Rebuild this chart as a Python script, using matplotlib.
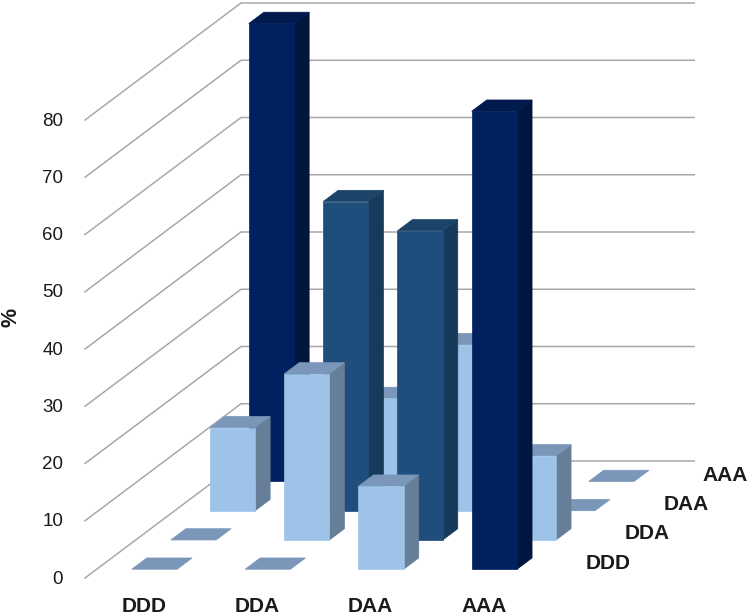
import matplotlib
matplotlib.use("Agg")
import matplotlib.pyplot as plt
from matplotlib.patches import Polygon
from matplotlib.transforms import ScaledTranslation

plt.rcParams['font.family'] = ['Liberation Sans', 'DejaVu Sans']

# ---- data ----
categories = ['DDD', 'DDA', 'DAA', 'AAA']
row_names = ['DDD', 'DDA', 'DAA', 'AAA']   # front to back
row_ddd = [0, 0, 14.5, 80]
row_dda = [0, 29, 54, 14.7]
row_daa = [14.5, 54, 29, 0]
row_aaa = [80, 14.5, 0, 0]
rows = [row_ddd, row_dda, row_daa, row_aaa]
y_ticks = [0, 10, 20, 30, 40, 50, 60, 70, 80]

# ---- oblique geometry ----
W, H = 752, 616
PX0, PY0 = 85.0, 578.0      # origin of the chart in pixels
COL_PX = 113.3              # px per category
UNIT_PX = 5.725             # px per value unit
ROW_DX, ROW_DY = 39.0, 29.25   # px shift per depth row
DX = ROW_DX / COL_PX        # depth shear in data units
DY = ROW_DY / UNIT_PX
BAR_W, BAR_GAP = 0.40, 0.31
BAR_D, DEPTH_GAP = 0.385, 0.30

AX_L, AX_B = 66, 592        # axes rectangle in px


def proj(x, depth, v):
    return (x + depth * DX, v + depth * DY)


fig = plt.figure(figsize=(W / 100, H / 100), dpi=100, facecolor='white')
ax = fig.add_axes([AX_L / W, (H - AX_B) / H, 1 - AX_L / W, AX_B / H])
ax.set_xlim((AX_L - PX0) / COL_PX, (W - PX0) / COL_PX)
ax.set_ylim((PY0 - AX_B) / UNIT_PX, PY0 / UNIT_PX)
for s in ax.spines.values():
    s.set_visible(False)
ax.patch.set_visible(False)

# walls
GRID = '#a8a8a8'
n_rows, n_cols = len(rows), len(categories)
for t in y_ticks:
    a, b = proj(0, 0, t), proj(0, n_rows, t)
    c = proj(n_cols, n_rows, t)
    ax.plot([a[0], b[0], c[0]], [a[1], b[1], c[1]], color=GRID, lw=1.1,
            solid_joinstyle='miter', zorder=1, clip_on=False)

# colours: (front, side, cap)
LIGHT = ('#9dc3e8', '#677e98', '#7a96b8')
MID = ('#1f4e7c', '#163a59', '#1c4468')
DARK = ('#00205f', '#00163f', '#001a4e')


def palette(v):
    if v >= 70:
        return DARK
    if v >= 40:
        return MID
    return LIGHT


z = 2
for j in range(n_rows - 1, -1, -1):
    for i in range(n_cols):
        v = rows[j][i]
        front, side, cap = palette(v)
        x0, x1 = i + BAR_GAP, i + BAR_GAP + BAR_W
        d0, d1 = j + DEPTH_GAP, j + DEPTH_GAP + BAR_D
        faces = []
        if v > 0:
            faces.append(([proj(x1, d0, 0), proj(x1, d1, 0), proj(x1, d1, v), proj(x1, d0, v)], side))
            faces.append(([proj(x0, d0, v), proj(x1, d0, v), proj(x1, d1, v), proj(x0, d1, v)], cap))
            faces.append(([proj(x0, d0, 0), proj(x1, d0, 0), proj(x1, d0, v), proj(x0, d0, v)], front))
        else:
            faces.append(([proj(x0, d0, v), proj(x1, d0, v), proj(x1, d1, v), proj(x0, d1, v)], cap))
        for pts, col in faces:
            ax.add_patch(Polygon(pts, closed=True, facecolor=col, edgecolor=col,
                                 lw=0.5, zorder=z, clip_on=False))
            z += 1

# axes text
TXT = '#1a1a1a'
ax.set_yticks(y_ticks)
ax.set_xticks([i + 0.52 for i in range(n_cols)])
ax.set_xticklabels(categories, fontsize=15, fontweight='bold', color=TXT)
ax.tick_params(axis='both', length=0, zorder=50)
ax.tick_params(axis='x', pad=3.4)
ax.tick_params(axis='y', pad=2, labelsize=13.5, labelcolor=TXT)
shift = ScaledTranslation(0, 1.0 / 100, fig.dpi_scale_trans)   # 1 px up
for lab in ax.get_yticklabels():
    lab.set_transform(lab.get_transform() + shift)
ax.set_ylabel('%', fontsize=15.5, fontweight='bold', color=TXT,
              va='center', ha='center')
ax.yaxis.set_label_coords(-(AX_L - 11) / (W - AX_L), (AX_B - 317) / AX_B)

# depth-axis labels
for j, name in enumerate(row_names):
    x, y = proj(n_cols + 0.62, j, 2.6)
    ax.text(x, y, name, fontsize=15, fontweight='bold', color=TXT,
            ha='center', va='center', zorder=60, clip_on=False)

fig.savefig('out.png', dpi=100, facecolor='white')
